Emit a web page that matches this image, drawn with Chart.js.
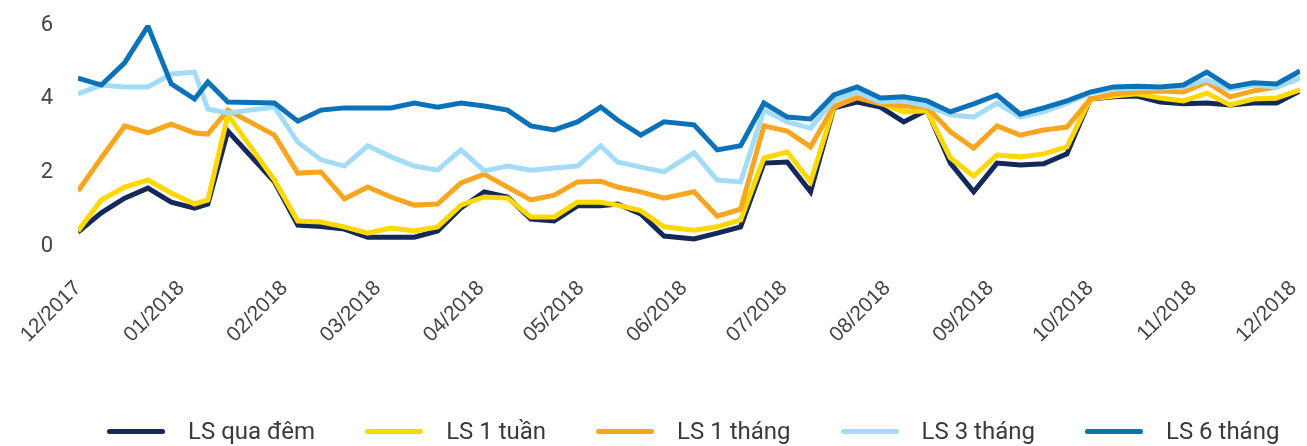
<!DOCTYPE html>
<html>
<head>
<meta charset="utf-8">
<script src="https://cdn.jsdelivr.net/npm/chart.js@4.4.0/dist/chart.umd.min.js"></script>
<style>
  body { margin: 0; background: #fff; }
  #wrap { position: relative; width: 1307px; height: 446px; }
  #legend { position: absolute; left: 107px; top: 417px; display: flex; align-items: center;
            font-family: Roboto, sans-serif; font-size: 24px; color: #3a3a3a; white-space: nowrap; }
  .item { display: flex; align-items: center; margin-right: 50px; }
  .sw { width: 58px; height: 5px; border-radius: 3px; margin-right: 23px; }
</style>
</head>
<body>
<div id="wrap">
  <canvas id="ratesChart" width="1307" height="446"></canvas>
  <div id="legend"></div>
</div>
<script>
// ngày quan sát (tuần)
let dates = ['2017-12-01','2017-12-08','2017-12-15','2017-12-22','2017-12-29','2018-01-05','2018-01-09','2018-01-15',
  '2018-01-29','2018-02-05','2018-02-12','2018-02-19','2018-02-26','2018-03-05','2018-03-12','2018-03-19',
  '2018-03-26','2018-04-02','2018-04-09','2018-04-16','2018-04-23','2018-04-30','2018-05-07','2018-05-12',
  '2018-05-19','2018-05-26','2018-06-04','2018-06-11','2018-06-18','2018-06-25','2018-07-02','2018-07-09',
  '2018-07-16','2018-07-23','2018-07-30','2018-08-06','2018-08-13','2018-08-20','2018-08-27','2018-09-03',
  '2018-09-10','2018-09-17','2018-09-24','2018-10-01','2018-10-08','2018-10-15','2018-10-22','2018-10-29',
  '2018-11-05','2018-11-12','2018-11-19','2018-11-26','2018-12-03'];

let lsQuaDem = [0.38,0.90,1.30,1.57,1.19,1.03,1.14,3.12,1.74,0.57,0.53,0.46,0.24,0.24,0.24,0.41,
  1.03,1.47,1.33,0.73,0.68,1.09,1.09,1.14,0.87,0.27,0.19,0.35,0.52,2.25,2.28,1.47,
  3.75,3.91,3.77,3.37,3.69,2.25,1.47,2.25,2.20,2.23,2.50,3.99,4.05,4.07,3.91,3.86,
  3.88,3.83,3.88,3.88,4.21];
let ls1Tuan = [0.41,1.25,1.60,1.79,1.44,1.14,1.25,3.56,1.79,0.68,0.65,0.52,0.35,0.49,0.41,0.52,
  1.11,1.33,1.30,0.79,0.79,1.19,1.19,1.11,0.96,0.52,0.43,0.52,0.71,2.39,2.55,1.74,
  3.77,4.05,3.88,3.64,3.67,2.39,1.90,2.47,2.42,2.50,2.69,3.99,4.07,4.13,4.02,3.94,
  4.15,3.83,3.99,4.02,4.24];
let ls1Thang = [1.49,2.39,3.26,3.07,3.31,3.07,3.04,3.69,3.01,1.98,2.01,1.28,1.60,1.33,1.11,1.14,
  1.71,1.95,1.60,1.25,1.38,1.74,1.76,1.60,1.47,1.30,1.47,0.81,1.00,3.26,3.12,2.69,
  3.80,4.02,3.86,3.80,3.77,3.10,2.66,3.26,3.01,3.15,3.23,3.99,4.13,4.18,4.21,4.18,
  4.45,4.05,4.21,4.32,4.56];
let ls3Thang = [4.13,4.37,4.32,4.32,4.67,4.72,3.72,3.61,3.77,2.82,2.34,2.17,2.72,2.42,2.17,2.06,
  2.61,2.04,2.17,2.06,2.12,2.17,2.72,2.28,2.14,2.01,2.53,1.79,1.74,3.69,3.37,3.20,
  3.96,4.18,3.91,3.94,3.80,3.56,3.50,3.88,3.50,3.64,3.88,4.15,4.26,4.29,4.29,4.32,
  4.51,4.26,4.37,4.32,4.56];
let ls6Thang = [4.56,4.37,4.97,5.97,4.40,3.99,4.45,3.91,3.88,3.39,3.69,3.75,3.75,3.75,3.88,3.77,
  3.88,3.80,3.69,3.26,3.15,3.37,3.77,3.42,3.01,3.37,3.29,2.61,2.72,3.88,3.50,3.45,
  4.10,4.32,4.02,4.05,3.94,3.64,3.86,4.10,3.58,3.75,3.94,4.18,4.32,4.34,4.32,4.37,
  4.72,4.32,4.43,4.40,4.75];

let monthStarts = ['2017-12-01','2018-01-01','2018-02-01','2018-03-01','2018-04-01','2018-05-01','2018-06-01',
  '2018-07-01','2018-08-01','2018-09-01','2018-10-01','2018-11-01','2018-12-01'];
let monthLabels = ['12/2017','01/2018','02/2018','03/2018','04/2018','05/2018','06/2018',
  '07/2018','08/2018','09/2018','10/2018','11/2018','12/2018'];
let yTicks = [0, 2, 4, 6];

let t0 = Date.parse(dates[0]);
function toDay(s) { return (Date.parse(s) - t0) / 86400000; }
function pts(arr) { return arr.map((v, i) => ({ x: toDay(dates[i]), y: v })); }

let series = [
  { label: 'LS qua đêm', data: lsQuaDem, color: '#14285a', order: 5 },
  { label: 'LS 1 tuần', data: ls1Tuan, color: '#ffd800', order: 4 },
  { label: 'LS 1 tháng', data: ls1Thang, color: '#f9a51f', order: 3 },
  { label: 'LS 3 tháng', data: ls3Thang, color: '#a3dcf7', order: 2 },
  { label: 'LS 6 tháng', data: ls6Thang, color: '#0b72b9', order: 1 }
];

let config = {
  type: 'line',
  data: {
    datasets: series.map(s => ({
      label: s.label,
      data: pts(s.data),
      borderColor: s.color,
      backgroundColor: s.color,
      borderWidth: 5,
      pointRadius: 0,
      tension: 0,
      order: s.order
    }))
  },
  options: {
    responsive: false,
    animation: false,
    layout: { padding: { top: 25, right: 7, bottom: 80, left: 0 } },
    plugins: { legend: { display: false }, tooltip: { enabled: false } },
    scales: {
      x: {
        type: 'linear',
        min: 0,
        max: toDay(dates[dates.length - 1]),
        grid: { display: false, drawTicks: false },
        border: { display: false },
        afterFit: ax => { ax.height = 120; ax.paddingLeft = 0; ax.paddingRight = 0; },
        afterBuildTicks: ax => { ax.ticks = monthStarts.map(m => ({ value: toDay(m) })); },
        ticks: {
          autoSkip: false,
          minRotation: 45,
          maxRotation: 45,
          padding: 30,
          color: '#444',
          font: { family: 'Liberation Sans', size: 21 },
          callback: (v, i) => monthLabels[i]
        }
      },
      y: {
        min: 0,
        max: 6,
        grid: { display: false, drawTicks: false },
        border: { display: false },
        afterFit: ax => { ax.width = 78; ax.paddingTop = 0; ax.paddingBottom = 0; },
        afterBuildTicks: ax => { ax.ticks = yTicks.map(v => ({ value: v })); },
        ticks: {
          padding: 25,
          color: '#444',
          font: { family: 'Roboto', size: 22 }
        }
      }
    }
  }
};

let chart = new Chart(document.getElementById('ratesChart'), config);

let legend = document.getElementById('legend');
series.forEach(s => {
  let item = document.createElement('div');
  item.className = 'item';
  item.innerHTML = '<span class="sw" style="background:' + s.color + '"></span><span>' + s.label + '</span>';
  legend.appendChild(item);
});
</script>
</body>
</html>
